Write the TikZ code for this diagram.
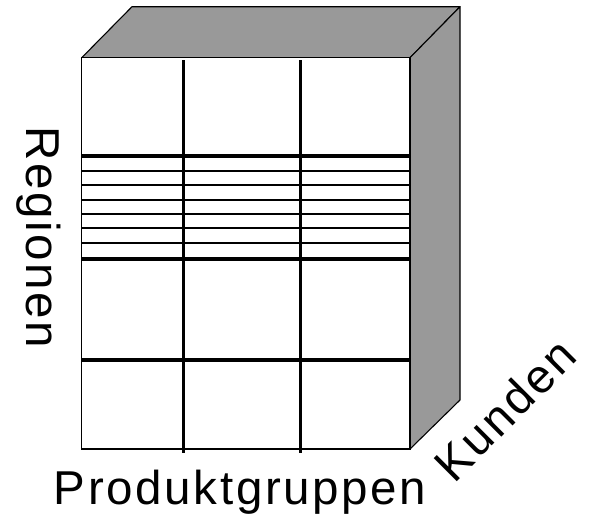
\documentclass[tikz,border=0pt]{standalone}
\usepackage{fontspec}
\setmainfont{Liberation Sans}
\newfontfamily\labfont[LetterSpace=5.6]{Liberation Sans}
\begin{document}
\begin{tikzpicture}[x=1pt,y=-1pt,
  face/.style={draw=black,line width=1.1pt,fill=black!40,line join=round},
  front/.style={draw=black,line width=1.1pt,fill=white},
  thick grid/.style={line width=3.5pt},
  thin grid/.style={line width=1.3pt},
  lab/.style={font=\labfont\fontsize{47.5}{52}\selectfont,inner sep=0pt}]
\useasboundingbox (0,0) rectangle (593,515);
% cube faces
\draw[face] (81.7,57.7) -- (132,6.7) -- (460,6.7) -- (410,57.7) -- cycle;
\draw[face] (410,57.7) -- (460,6.7) -- (460,400) -- (410,449) -- cycle;
\draw[front] (81.7,57.7) rectangle (410,449);
% thin lines
\foreach \y in {171,185,200,214,228,243}
  \draw[thin grid] (81.7,\y) -- (410,\y);
% thick horizontal lines
\foreach \y in {156,259,360}
  \draw[thick grid] (81.7,\y) -- (410,\y);
% thick vertical lines
\foreach \x in {183.3,300.7}
  \draw[thick grid] (\x,60) -- (\x,453);
% labels
\node[lab,anchor=base west] (pg) at (53.6,504.3) {Produktgruppen};
\node[lab,anchor=base west,rotate=-90] (rg) at (26.7,126.2) {Regionen};
\node[lab,anchor=base west,rotate=45] (kd) at (454.2,484.2) {Kunden};
\end{tikzpicture}
\end{document}
